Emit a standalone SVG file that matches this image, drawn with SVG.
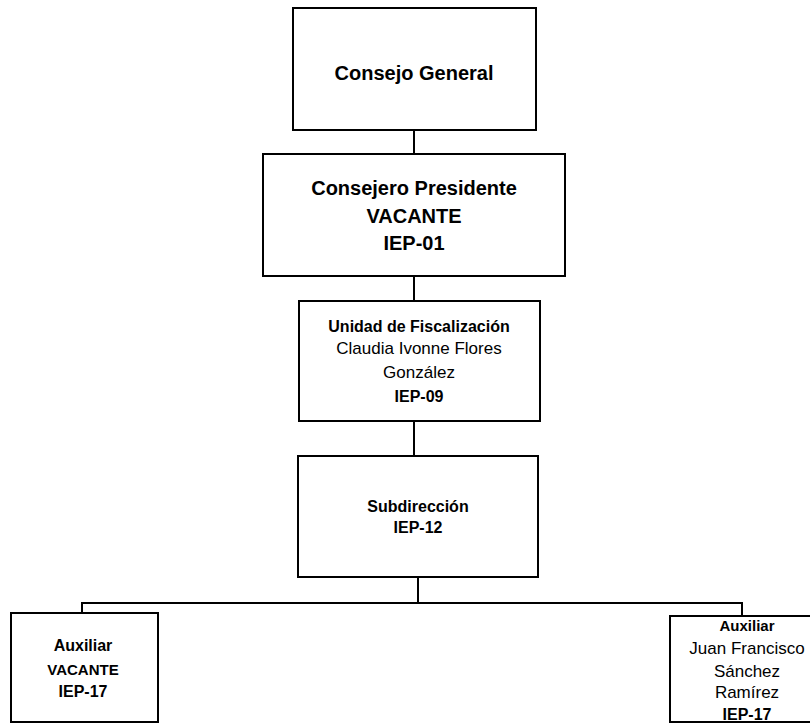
<svg xmlns="http://www.w3.org/2000/svg" width="810" height="725" viewBox="0 0 810 725">
<style>
.box{fill:#fff;stroke:#000;stroke-width:2}
.ln{fill:none;stroke:#000;stroke-width:2}
text{font-family:"Liberation Sans",Arial,sans-serif;fill:#000;text-anchor:middle}
.b{font-weight:bold}
</style>
<rect width="810" height="725" fill="#fff"/>
<g id="connectors">
<path class="ln" d="M414 130V154"/>
<path class="ln" d="M414 276V301"/>
<path class="ln" d="M414 421V456"/>
<path class="ln" d="M418 577V603"/>
<path class="ln" d="M82 613V603H742V616"/>
</g>
<g id="consejo-general">
<rect class="box" x="293" y="8" width="243" height="122"/>
<text class="b" x="414" y="80" font-size="20">Consejo General</text>
</g>
<g id="consejero-presidente">
<rect class="box" x="263" y="154" width="302" height="122"/>
<text class="b" x="414" y="195" font-size="20">Consejero Presidente</text>
<text class="b" x="414" y="223" font-size="20">VACANTE</text>
<text class="b" x="414" y="250" font-size="20">IEP-01</text>
</g>
<g id="unidad-fiscalizacion">
<rect class="box" x="299" y="301" width="241" height="120"/>
<text class="b" x="419" y="332" font-size="16">Unidad de Fiscalización</text>
<text x="419" y="354" font-size="17">Claudia Ivonne Flores</text>
<text x="419" y="378" font-size="17">González</text>
<text class="b" x="419" y="402" font-size="16">IEP-09</text>
</g>
<g id="subdireccion">
<rect class="box" x="298" y="456" width="240" height="121"/>
<text class="b" x="418" y="512" font-size="16">Subdirección</text>
<text class="b" x="418" y="533" font-size="16">IEP-12</text>
</g>
<g id="auxiliar-vacante">
<rect class="box" x="11" y="613" width="147" height="109"/>
<text class="b" x="83" y="651" font-size="16">Auxiliar</text>
<text class="b" x="83" y="675" font-size="15">VACANTE</text>
<text class="b" x="83" y="697" font-size="16">IEP-17</text>
</g>
<g id="auxiliar-juan">
<rect class="box" x="670" y="616" width="150" height="106"/>
<text class="b" x="747" y="631" font-size="15">Auxiliar</text>
<text x="747" y="654" font-size="17">Juan Francisco</text>
<text x="747" y="677" font-size="17">Sánchez</text>
<text x="747" y="698" font-size="17">Ramírez</text>
<text class="b" x="747" y="720" font-size="16">IEP-17</text>
</g>
</svg>
